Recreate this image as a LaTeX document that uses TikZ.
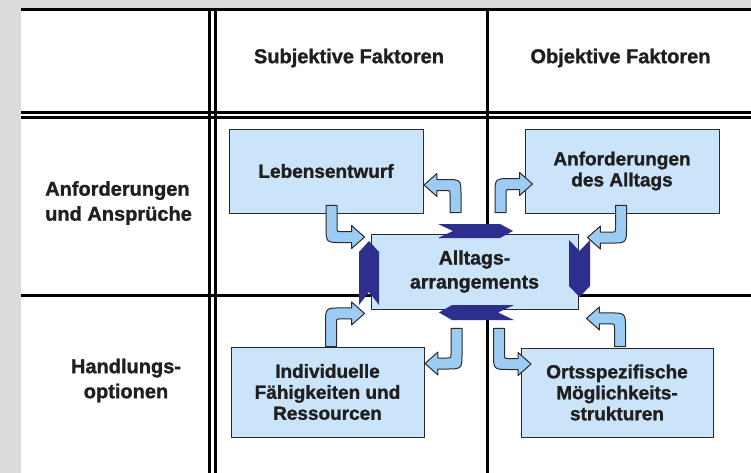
\documentclass[tikz,border=0pt]{standalone}
\usepackage{fontspec}
\setmainfont{Liberation Sans}[BoldFeatures={FakeBold=1.3}]
\usetikzlibrary{calc}

\definecolor{panelgray}{HTML}{DCDCDC}
\definecolor{boxblue}{HTML}{CCE4FA}
\definecolor{arrowblue}{HTML}{9CCBF4}
\definecolor{chevnavy}{HTML}{2E2E8E}
\definecolor{edgegray}{HTML}{2A2A2A}

% bent arrow: from start #1 straight on, then turning to the tip #2
\newcommand{\bentarrow}[2]{%
  \path[bent] let \p1=#1, \p2=#2,
      \n1={sign(\x2-\x1)}, \n2={sign(\y2-\y1)} in
    ({\x1-(\n1)*5.5pt},\y1)
    -- ({\x1-(\n1)*5.5pt},{\y2+(\n2)*5.5pt-(\n2)*16pt})
    .. controls ({\x1-(\n1)*5.5pt},{\y2+(\n2)*5.5pt}) ..
    ({\x1-(\n1)*5.5pt+(\n1)*16pt},{\y2+(\n2)*5.5pt})
    -- ({\x2-(\n1)*13pt},{\y2+(\n2)*5.5pt})
    -- ({\x2-(\n1)*13pt},{\y2+(\n2)*11.5pt})
    -- (\x2,\y2)
    -- ({\x2-(\n1)*13pt},{\y2-(\n2)*11.5pt})
    -- ({\x2-(\n1)*13pt},{\y2-(\n2)*5.5pt})
    -- ({\x1+(\n1)*9.5pt},{\y2-(\n2)*5.5pt})
    .. controls ({\x1+(\n1)*5.5pt},{\y2-(\n2)*5.5pt}) ..
    ({\x1+(\n1)*5.5pt},{\y2-(\n2)*9.5pt})
    -- ({\x1+(\n1)*5.5pt},\y1) -- cycle;}

\begin{document}
\begin{tikzpicture}[
        x=1pt, y=-1pt,
        rule/.style={
            line width=3pt,
            black
        },
        head/.style={
            font=\fontsize{20}{25}\selectfont\bfseries,
            text=black!88,
            inner sep=0pt
        },
        box/.style={
            draw=edgegray,
            fill=boxblue,
            line width=0.9pt,
            minimum width=194pt,
            minimum height=84pt,
            inner sep=0pt,
            align=center,
            font=\fontsize{19}{21}\selectfont\bfseries,
            text=black!88
        },
        bent/.style={
            fill=arrowblue,
            draw=edgegray,
            line width=1pt,
            line join=round
        },
        chevron/.style={
            fill=chevnavy
        }
    ]
        \useasboundingbox (0,0) rectangle (751,473);
        \fill[panelgray] (0,0) rectangle (751,473);
        \fill[white] (21,11) rectangle (751,473);

        % table grid
        \foreach \y in {9.5,112.5,118,295}
            \draw[rule] (21,\y) -- (751,\y);
        \foreach \x in {209.8,215.6,487.5}
            \draw[rule] (\x,8) -- (\x,473);

        % headings
        \node (subj) [head] at (349,58) {Subjektive Faktoren};
        \node (obj) [head] at (620.5,58) {Objektive Faktoren};
        \node (anspr) [head, anchor=west, align=left] at (45,203) {Anforderungen\\und Ansprüche};
        \node (handl) [head, align=center] at (126,380.5) {Handlungs-\\optionen};

        % boxes
        \node (leben) [box] at (326,171) {Lebensentwurf};
        \node (alltag) [box] at (622,171) {Anforderungen\\des Alltags};
        \node (indiv) [box, minimum width=193pt, minimum height=90pt] at (327.5,392) {Individuelle\\Fähigkeiten und\\Ressourcen};
        \node (orts) [box, minimum width=192pt, minimum height=89pt] at (617,392.5) {Ortsspezifische\\Möglichkeits-\\strukturen};
        \node (cent) [box, minimum width=207pt, minimum height=75pt, font=\fontsize{19.5}{24}\selectfont\bfseries] at (474.5,271.5) {Alltags-\\arrangements};

        % dark chevrons round the centre box
        \begin{scope}[shift={(cent.center)}]
            \fill[chevron] (-36.5,-47.5) -- (25.5,-47.5) -- (38.5,-40.5) -- (25.5,-33.5) -- (-36.5,-33.5) -- (-21.5,-40.5) -- cycle;
            \fill[chevron] (-35.5,41) -- (-22.5,33.5) -- (39.5,33.5) -- (23.5,41) -- (39.5,48.5) -- (-22.5,48.5) -- cycle;
            \fill[chevron] (-105.5,-30.5) -- (-95.5,-19.5) -- (-95.5,33.5) -- (-105.5,20.5) -- (-115.5,33.5) -- (-115.5,-19.5) -- cycle;
            \fill[chevron] (94.5,-31.5) -- (105,-20.5) -- (115.5,-31.5) -- (115.5,14.5) -- (105,25.5) -- (94.5,14.5) -- cycle;
        \end{scope}

        % bent arrows between the boxes
        \bentarrow{([xshift=5.5pt,yshift=8pt]leben.south)}{([xshift=-6pt,yshift=-3.5pt]cent.north west)}
        \bentarrow{([xshift=-19pt,yshift=21pt]cent.north)}{([xshift=0.5pt,yshift=-14pt]leben.east)}
        \bentarrow{([xshift=26pt,yshift=21pt]cent.north)}{([xshift=8pt,yshift=-13pt]alltag.west)}
        \bentarrow{([xshift=-1pt,yshift=8pt]alltag.south)}{([xshift=9pt,yshift=-4pt]cent.north east)}
        \bentarrow{([xshift=3.5pt]indiv.north)}{([xshift=-6pt,yshift=-4pt]cent.south west)}
        \bentarrow{([xshift=-18pt,yshift=-19pt]cent.south)}{([xshift=0.5pt,yshift=28.5pt]indiv.east)}
        \bentarrow{([xshift=24.5pt,yshift=-19pt]cent.south)}{([xshift=10.5pt,yshift=28.5pt]orts.west)}
        \bentarrow{([xshift=3pt,yshift=1pt]orts.north)}{([xshift=8pt,yshift=-9pt]cent.south east)}
    \end{tikzpicture}
\end{document}
